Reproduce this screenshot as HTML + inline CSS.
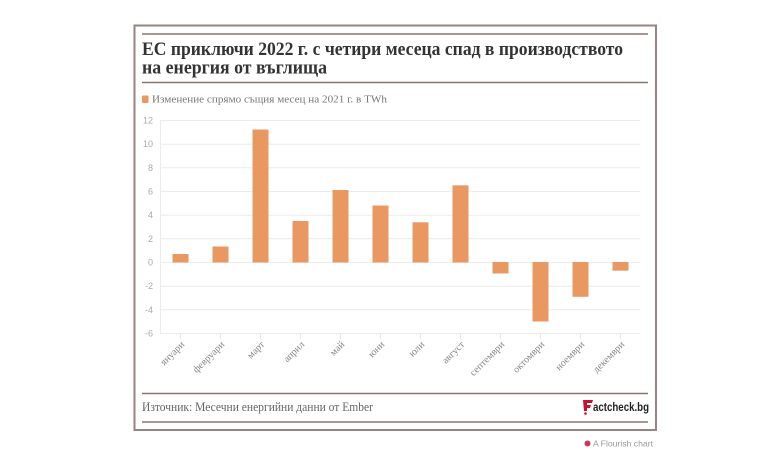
<!DOCTYPE html>
<html><head><meta charset="utf-8"><style>
html,body{margin:0;padding:0;background:#fff;}
svg{display:block;}
</style></head><body>
<svg width="780" height="470" viewBox="0 0 780 470" xmlns="http://www.w3.org/2000/svg">
<rect x="0" y="0" width="780" height="470" fill="#fff"/>
<!-- frame -->
<rect x="134.5" y="25.5" width="521.5" height="404.5" fill="none" stroke="#9b8282" stroke-width="2"/>
<line x1="142" y1="34" x2="648" y2="34" stroke="#8e7070" stroke-width="1.6"/>
<line x1="142" y1="82.5" x2="648" y2="82.5" stroke="#8e7070" stroke-width="1.6"/>
<line x1="142" y1="393.5" x2="648" y2="393.5" stroke="#8e7070" stroke-width="1.6"/>
<line x1="142" y1="422" x2="648" y2="422" stroke="#8e7070" stroke-width="1.6"/>
<!-- title -->
<g font-family="'Liberation Serif', 'Noto Serif CJK SC', serif" font-weight="bold" font-size="19" fill="#333">
<text x="142" y="55" textLength="481" lengthAdjust="spacingAndGlyphs">ЕС приключи 2022 г. с четири месеца спад в производството</text>
<text x="142" y="73.5" textLength="185" lengthAdjust="spacingAndGlyphs">на енергия от въглища</text>
</g>
<!-- legend -->
<rect x="142" y="95.5" width="6.5" height="7.5" rx="1" fill="#e99862"/>
<text x="152" y="102.5" font-family="'Liberation Serif', serif" font-size="11" fill="#777" textLength="235" lengthAdjust="spacingAndGlyphs">Изменение спрямо същия месец на 2021 г. в TWh</text>
<!-- grid -->
<g stroke="#ececec" stroke-width="1">
<line x1="160" y1="120.5" x2="640" y2="120.5"/>
<line x1="160" y1="144.2" x2="640" y2="144.2"/>
<line x1="160" y1="167.8" x2="640" y2="167.8"/>
<line x1="160" y1="191.5" x2="640" y2="191.5"/>
<line x1="160" y1="215.2" x2="640" y2="215.2"/>
<line x1="160" y1="238.8" x2="640" y2="238.8"/>
<line x1="160" y1="262.5" x2="640" y2="262.5"/>
<line x1="160" y1="286.2" x2="640" y2="286.2"/>
<line x1="160" y1="309.8" x2="640" y2="309.8"/>
<line x1="160" y1="333.5" x2="640" y2="333.5"/>
<line x1="160.5" y1="120" x2="160.5" y2="334"/>
</g>
<g stroke="#e6e6e6" stroke-width="1">
<line x1="180.5" y1="334" x2="180.5" y2="339"/><line x1="220.5" y1="334" x2="220.5" y2="339"/>
<line x1="260.5" y1="334" x2="260.5" y2="339"/><line x1="300.5" y1="334" x2="300.5" y2="339"/>
<line x1="340.5" y1="334" x2="340.5" y2="339"/><line x1="380.5" y1="334" x2="380.5" y2="339"/>
<line x1="420.5" y1="334" x2="420.5" y2="339"/><line x1="460.5" y1="334" x2="460.5" y2="339"/>
<line x1="500.5" y1="334" x2="500.5" y2="339"/><line x1="540.5" y1="334" x2="540.5" y2="339"/>
<line x1="580.5" y1="334" x2="580.5" y2="339"/><line x1="620.5" y1="334" x2="620.5" y2="339"/>
</g>
<!-- y labels -->
<g font-family="'Liberation Sans', sans-serif" font-size="9" fill="#aaa" text-anchor="end">
<text x="153" y="123.5">12</text>
<text x="153" y="147.2">10</text>
<text x="153" y="170.8">8</text>
<text x="153" y="194.5">6</text>
<text x="153" y="218.2">4</text>
<text x="153" y="241.8">2</text>
<text x="153" y="265.5">0</text>
<text x="153" y="289.2">-2</text>
<text x="153" y="312.8">-4</text>
<text x="153" y="336.5">-6</text>
</g>
<!-- bars -->
<g fill="#ea9862">
<rect x="172.5" y="254" width="16" height="8.5"/>
<rect x="212.5" y="246.5" width="16" height="16"/>
<rect x="252.5" y="129.5" width="16" height="133"/>
<rect x="292.5" y="221" width="16" height="41.5"/>
<rect x="332.5" y="190" width="16" height="72.5"/>
<rect x="372.5" y="205.5" width="16" height="57"/>
<rect x="412.5" y="222.3" width="16" height="40.2"/>
<rect x="452.5" y="185.3" width="16" height="77.2"/>
<rect x="492.5" y="262" width="16" height="11.5"/>
<rect x="532.5" y="262" width="16" height="59.5"/>
<rect x="572.5" y="262" width="16" height="34.8"/>
<rect x="612.5" y="262" width="16" height="8.7"/>
</g>
<!-- x labels -->
<g font-family="'Liberation Serif', serif" font-size="10" fill="#888" text-anchor="end">
<text transform="translate(185,345) rotate(-45)">януари</text>
<text transform="translate(225,345) rotate(-45)">февруари</text>
<text transform="translate(265,345) rotate(-45)">март</text>
<text transform="translate(305,345) rotate(-45)">април</text>
<text transform="translate(345,345) rotate(-45)">май</text>
<text transform="translate(385,345) rotate(-45)">юни</text>
<text transform="translate(425,345) rotate(-45)">юли</text>
<text transform="translate(465,345) rotate(-45)">август</text>
<text transform="translate(505,345) rotate(-45)">септември</text>
<text transform="translate(545,345) rotate(-45)">октомври</text>
<text transform="translate(585,345) rotate(-45)">ноември</text>
<text transform="translate(625,345) rotate(-45)">декември</text>
</g>
<!-- source -->
<text x="142" y="411" font-family="'Liberation Serif', serif" font-size="13" fill="#666" textLength="231" lengthAdjust="spacingAndGlyphs">Източник: Месечни енергийни данни от Ember</text>
<!-- logo -->
<g>
<path d="M583 400 L593 400 L592 403 L587 403 L587 405 L591 405 L590 408 L587 408 L587 411 L584 411 Z" fill="#c8102e"/>
<circle cx="585.5" cy="413.5" r="1.3" fill="#c8102e"/>
<text x="593" y="411" font-family="'Liberation Sans', sans-serif" font-weight="bold" font-size="11.5" fill="#222" textLength="56" lengthAdjust="spacingAndGlyphs">actcheck.bg</text>
</g>
<!-- flourish -->
<circle cx="587.5" cy="443.5" r="3" fill="#c8385a"/>
<text x="593" y="446.5" font-family="'Liberation Sans', sans-serif" font-size="8.5" fill="#999" textLength="60" lengthAdjust="spacingAndGlyphs">A Flourish chart</text>
</svg>
</body></html>
